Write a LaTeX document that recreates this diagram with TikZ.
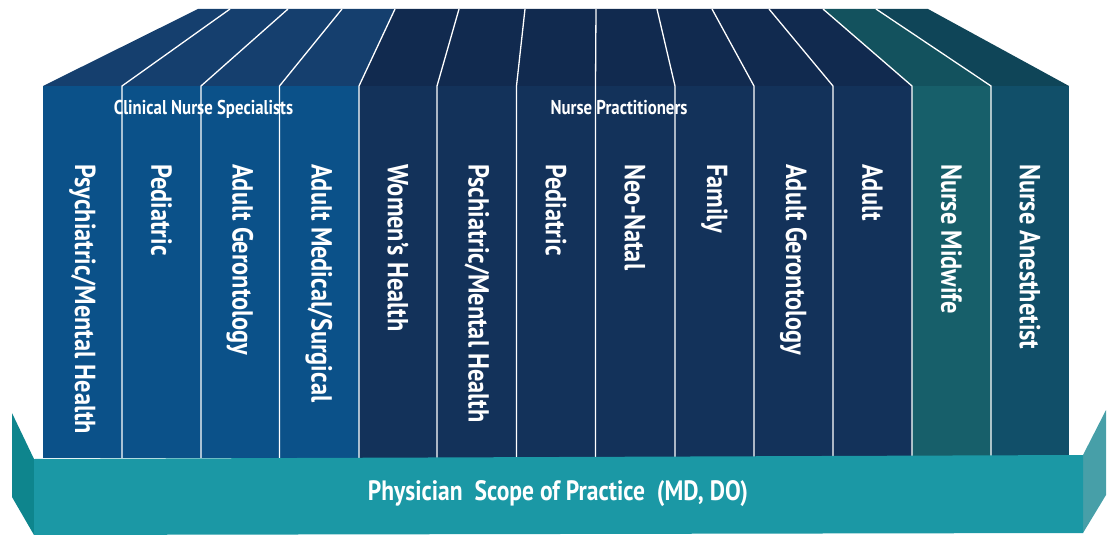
\documentclass[tikz,border=0pt]{standalone}
\usepackage{fontspec}
\usepackage{xcolor}
\usepackage{tikz}
\newfontfamily\condfont{PT Sans}[FakeStretch=0.84]

\begin{document}
\begin{tikzpicture}[x = 1pt, y = -1pt,
                    color = {white}]

  \useasboundingbox (0,0) rectangle (1112,535);

  % DEF POINTS
  \coordinate (t0) at (198, 9);
  \coordinate (t1) at (230, 9);
  \coordinate (t2) at (288, 9);
  \coordinate (t3) at (342, 9);
  \coordinate (t4) at (395, 9);
  \coordinate (t5) at (459, 9);
  \coordinate (t6) at (525, 9);
  \coordinate (t7) at (596, 9);
  \coordinate (t8) at (657, 9);
  \coordinate (t9) at (712, 9);
  \coordinate (t10) at (769, 9);
  \coordinate (t11) at (823, 9);
  \coordinate (t12) at (876, 9);
  \coordinate (t13) at (928, 9);

  \coordinate (f0) at (43, 86);
  \coordinate (f1) at (122, 86);
  \coordinate (f2) at (201, 86);
  \coordinate (f3) at (279.5, 86);
  \coordinate (f4) at (359, 86);
  \coordinate (f5) at (437, 86);
  \coordinate (f6) at (516.5, 86);
  \coordinate (f7) at (595.5, 86);
  \coordinate (f8) at (675, 86);
  \coordinate (f9) at (754, 86);
  \coordinate (f10) at (833, 86);
  \coordinate (f11) at (912, 86);
  \coordinate (f12) at (991, 86);
  \coordinate (f13) at (1069, 86);

  \coordinate (b0) at (43, 458);
  \coordinate (b1) at (122, 458);
  \coordinate (b2) at (201, 458);
  \coordinate (b3) at (279.5, 458);
  \coordinate (b4) at (359, 458);
  \coordinate (b5) at (437, 458);
  \coordinate (b6) at (516.5, 458);
  \coordinate (b7) at (595.5, 458);
  \coordinate (b8) at (675, 458);
  \coordinate (b9) at (754, 458);
  \coordinate (b10) at (833, 458);
  \coordinate (b11) at (912, 458);
  \coordinate (b12) at (991, 458);
  \coordinate (b13) at (1069, 458);


  % FACES STYLE
  \definecolor{cnsfront}{HTML}{0B5189}
  \definecolor{cnstop}{HTML}{153F6E}
  \definecolor{npfront}{HTML}{13325A}
  \definecolor{nptop}{HTML}{112A4F}
  \definecolor{cnmfront}{HTML}{175F6A}
  \definecolor{cnmtop}{HTML}{13525E}
  \definecolor{crnafront}{HTML}{114F69}
  \definecolor{crnatop}{HTML}{0F4558}
  \definecolor{basefront}{HTML}{1B98A5}
  \definecolor{baseleft}{HTML}{0E858D}
  \definecolor{baseright}{HTML}{479FA8}

  \tikzstyle{dividerstyle} = [draw=white, line width=1.3pt, line join=round]
  \tikzstyle{labelstyle} = [text=white, inner sep=0pt, anchor=west, rotate=-90,
                            font=\condfont\bfseries\fontsize{29}{32}\selectfont]
  \tikzstyle{headstyle} = [text=white, inner sep=0pt,
                           font=\condfont\bfseries\fontsize{20}{23}\selectfont]


  % FACES in the right order
  \fill[cnstop] (f0) -- (t0) -- (t4) -- (f4) -- cycle;
  \fill[nptop] (f4) -- (t4) -- (t11) -- (f11) -- cycle;
  \fill[cnmtop] (f11) -- (t11) -- (t12) -- (f12) -- cycle;
  \fill[crnatop] (f12) -- (t12) -- (t13) -- (f13) -- cycle;

  \fill[cnsfront] (f0) rectangle (b4);
  \fill[npfront] (f4) rectangle (b11);
  \fill[cnmfront] (f11) rectangle (b12);
  \fill[crnafront] (f12) rectangle (b13);


  % EDGES
  \draw[dividerstyle] (b1) -- (f1) -- (t1);
  \draw[dividerstyle] (b2) -- (f2) -- (t2);
  \draw[dividerstyle] (b3) -- (f3) -- (t3);
  \draw[dividerstyle] (b4) -- (f4) -- (t4);
  \draw[dividerstyle] (b5) -- (f5) -- (t5);
  \draw[dividerstyle] (b6) -- (f6) -- (t6);
  \draw[dividerstyle] (b7) -- (f7) -- (t7);
  \draw[dividerstyle] (b8) -- (f8) -- (t8);
  \draw[dividerstyle] (b9) -- (f9) -- (t9);
  \draw[dividerstyle] (b10) -- (f10) -- (t10);
  \draw[dividerstyle] (b11) -- (f11) -- (t11);
  \draw[dividerstyle] (b12) -- (f12) -- (t12);


  % BASE
  \fill[baseleft] (12, 413) -- (34, 459) -- (34, 535) -- (12, 497) -- cycle;
  \fill[baseright] (1083, 455) -- (1106, 410) -- (1106, 495) -- (1083, 533) -- cycle;
  \fill[basefront] (34, 459) -- (1083, 455) -- (1083, 533) -- (34, 535) -- cycle;


  % HEADS
  \node[headstyle] (cns) at (203.5, 109) {Clinical Nurse Specialists};
  \node[headstyle] (np) at (619, 108) {Nurse Practitioners};


  % LABELS
  \node[labelstyle] (cnspsych) at (82.5, 164) {Psychiatric/Mental Health};
  \node[labelstyle] (cnsped) at (161.5, 164) {Pediatric};
  \node[labelstyle] (cnsgero) at (240, 164) {Adult Gerontology};
  \node[labelstyle] (cnsmed) at (319, 164) {Adult Medical/Surgical};
  \node[labelstyle] (npwomen) at (398, 164) {Women’s Health};
  \node[labelstyle] (nppsych) at (477, 164) {Pschiatric/Mental Health};
  \node[labelstyle] (npped) at (556, 164) {Pediatric};
  \node[labelstyle] (npneo) at (635, 164) {Neo-Natal};
  \node[labelstyle] (npfam) at (714.5, 164) {Family};
  \node[labelstyle] (npgero) at (793.5, 164) {Adult Gerontology};
  \node[labelstyle] (npadult) at (872.5, 164) {Adult};
  \node[labelstyle] (cnm) at (951.5, 164) {Nurse Midwife};
  \node[labelstyle] (crna) at (1030, 164) {Nurse Anesthetist};


  % SCOPE
  \node[headstyle, font=\condfont\bfseries\fontsize{28}{31}\selectfont]
    (scope) at (558, 494) {Physician\ \ Scope of Practice\ \ (MD, DO)};

\end{tikzpicture}
\end{document}
